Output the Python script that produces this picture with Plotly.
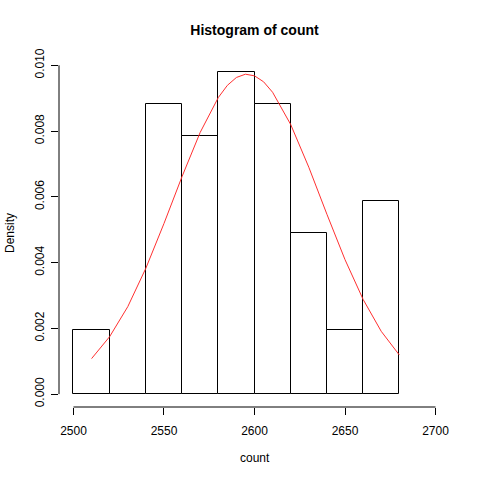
import plotly.graph_objects as go

# Histogram bins (breaks) and densities
bin_left = [2500, 2520, 2540, 2560, 2580, 2600, 2620, 2640, 2660]
bin_width = 20
density = [0.00196, 0.0, 0.00882, 0.00784, 0.00980, 0.00882, 0.00490, 0.00196, 0.00588]

# Red curve (normal density overlay)
curve_x = [2510, 2520, 2530, 2540, 2550, 2560, 2570, 2580, 2585, 2590, 2595, 2600, 2605,
           2610, 2620, 2630, 2640, 2650, 2660, 2670, 2680]
curve_y = [0.00108, 0.00175, 0.00266, 0.00383, 0.00519, 0.00662, 0.00796, 0.00902, 0.00939, 0.00963,
           0.00973, 0.00968, 0.00950,
           0.00918, 0.00820, 0.00690, 0.00547, 0.00409, 0.00288, 0.00191, 0.00119]

x_ticks = [2500, 2550, 2600, 2650, 2700]
y_ticks = [0.000, 0.002, 0.004, 0.006, 0.008, 0.010]
y_tick_text = ["0.000", "0.002", "0.004", "0.006", "0.008", "0.010"]

FONT = "Liberation Sans, Arial, Helvetica, sans-serif"

centers = [b + bin_width / 2 for b in bin_left]

fig = go.Figure()
fig.add_trace(go.Bar(
    x=centers, y=density, width=[bin_width] * len(centers),
    marker=dict(color="white", line=dict(color="black", width=1)),
    hoverinfo="skip", showlegend=False,
))
fig.add_trace(go.Scatter(
    x=curve_x, y=curve_y, mode="lines",
    line=dict(color="#FF3030", width=1), showlegend=False,
))

# R-style detached axis lines spanning the first to last tick
fig.add_shape(type="line", xref="x", yref="paper", x0=x_ticks[0], x1=x_ticks[-1], y0=0, y1=0,
              line=dict(color="black", width=1))
fig.add_shape(type="line", xref="paper", yref="y", x0=0, x1=0, y0=y_ticks[0], y1=y_ticks[-1],
              line=dict(color="black", width=1))

# axis titles placed as annotations (R puts them at fixed margin lines)
fig.add_annotation(text="count", xref="paper", yref="paper", x=0.5, y=0, yshift=-51,
                   xanchor="center", yanchor="middle", showarrow=False,
                   font=dict(size=12, family=FONT, color="black"))
fig.add_annotation(text="Density", xref="paper", yref="paper", x=0, y=0.5, xshift=-49,
                   xanchor="center", yanchor="middle", textangle=-90, showarrow=False,
                   font=dict(size=12, family=FONT, color="black"))

fig.update_layout(
    width=480, height=480,
    margin=dict(l=59, r=30, t=59, b=73, autoexpand=False),
    paper_bgcolor="white", plot_bgcolor="white",
    font=dict(family=FONT, size=12, color="black"),
    title=dict(text="<b>Histogram of count</b>", x=(59 + 480 - 30) / 2 / 480, xanchor="center",
               y=1 - 30 / 480, yanchor="middle",
               font=dict(size=14, family=FONT, color="black")),
    bargap=0,
    xaxis=dict(range=[2492, 2708], tickvals=x_ticks, ticks="outside", ticklen=7, tickcolor="black",
               showgrid=False, zeroline=False, showline=False, automargin=False,
               ticklabelstandoff=6, tickfont=dict(size=12)),
    yaxis=dict(range=[-0.000392, 0.010192], tickvals=y_ticks, ticktext=y_tick_text, ticks="outside",
               ticklen=7, tickcolor="black", tickangle=-90, automargin=False,
               ticklabelstandoff=2,
               showgrid=False, zeroline=False, showline=False, tickfont=dict(size=12)),
)

# remove the browser's default 8px body margin so the figure fills the window exactly
fig.write_html("out.html", config={"displayModeBar": False},
               post_script="document.body.style.margin='0';")
